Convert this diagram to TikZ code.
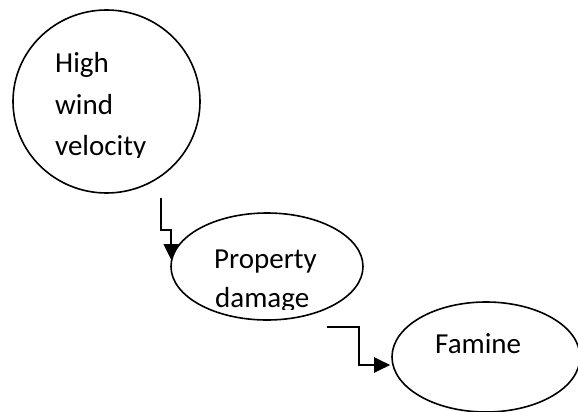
\documentclass[tikz,border=0pt]{standalone}
\usepackage{fontspec}
\setmainfont{Carlito}
\usetikzlibrary{shapes.geometric,arrows.meta,calc}
\tikzset{
  bubble/.style={draw=black, line width=1.6pt, ellipse, inner sep=0pt},
  lbl/.style={anchor=base west, inner sep=0pt, font=\fontsize{29}{40}\selectfont},
  conn/.style={draw=black, line width=2.2pt, -{Triangle[length=16pt,width=15pt]}}
}
\begin{document}
\begin{tikzpicture}[x=1pt,y=-1pt]
\useasboundingbox (0,0) rectangle (578,412);
% bubbles
\node[bubble, minimum width=187pt, minimum height=183pt] (e1) at (106.5,101.5) {};
\node[bubble, minimum width=192pt, minimum height=107pt] (e2) at (267,266.5) {};
\node[bubble, minimum width=188pt, minimum height=110pt] (e3) at (486,357) {};
% labels
\begin{scope}
\clip (0,0) rectangle (578,157);
\node[lbl] (t1a) at (55,73) {High};
\node[lbl] (t1b) at (55,114) {wind};
\node[lbl] (t1c) at (55,155) {velocity};
\end{scope}
\begin{scope}
\clip (0,0) rectangle (578,309.5);
\node[lbl] (t2a) at (214,268) {Property};
\node[lbl] (t2b) at (215,307) {damage};
\end{scope}
\node[lbl] (t3) at (435,353) {Famine};
% connectors
\coordinate (s1) at (161,198);
\coordinate (s2) at (327,327);
\draw[conn] (s1) -- ++(0,32) -| ($(e2.west)+(1,-6.5)$);
\draw[conn] (s2) -- ++(32,0) |- ($(e3.west)+(-1,8)$);
\end{tikzpicture}
\end{document}
